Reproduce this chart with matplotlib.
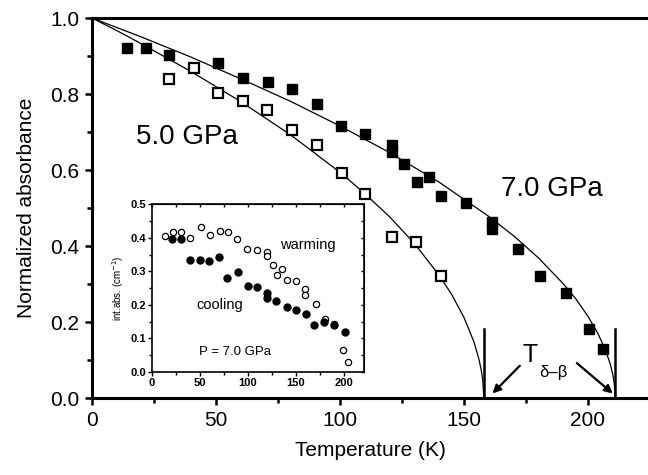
import numpy as np
import matplotlib
matplotlib.use('Agg')
import matplotlib.pyplot as plt
from matplotlib.ticker import MultipleLocator

plt.rcParams['font.family'] = ['Liberation Sans', 'DejaVu Sans']

# main panel: normalized absorbance vs temperature
t_7gpa = [14.0, 21.7, 31.2, 50.9, 61.0, 71.0, 80.5, 90.8, 100.4, 110.1, 120.8, 120.8,
          125.9, 130.9, 135.9, 140.7, 150.8, 161.2, 161.2, 171.9, 180.6, 191.1, 200.5, 205.9]
a_7gpa = [0.922, 0.922, 0.903, 0.882, 0.841, 0.833, 0.812, 0.773, 0.716, 0.695, 0.666, 0.648,
          0.616, 0.568, 0.581, 0.532, 0.512, 0.464, 0.444, 0.393, 0.322, 0.277, 0.181, 0.129]

t_5gpa = [31.2, 41.2, 50.9, 61.0, 70.6, 80.6, 90.8, 100.8, 110.1, 120.8, 130.6, 140.7]
a_5gpa = [0.839, 0.869, 0.804, 0.782, 0.759, 0.705, 0.666, 0.593, 0.536, 0.423, 0.411, 0.321]

# fit curves
fit7_t = [0, 10, 20, 40, 60, 80, 100, 120, 140, 160, 170, 180, 190, 195, 200, 204, 207, 209, 210, 210.6, 211]
fit7_a = [1.0, 0.975, 0.950, 0.897, 0.840, 0.781, 0.716, 0.646, 0.568, 0.478, 0.427, 0.369,
          0.301, 0.262, 0.215, 0.170, 0.127, 0.089, 0.062, 0.038, 0.0]
fit5_t = [0, 10, 20, 40, 60, 80, 100, 110, 120, 130, 140, 145, 150, 154, 156, 157, 157.6, 158]
fit5_a = [1.0, 0.967, 0.932, 0.859, 0.780, 0.693, 0.594, 0.538, 0.477, 0.407, 0.323, 0.273,
          0.212, 0.148, 0.103, 0.072, 0.045, 0.0]

t_transition = [158.2, 211.0]

# inset: integrated absorbance at 7.0 GPa
t_cool = [21.2, 30.1, 40.0, 50.3, 59.5, 70.1, 78.6, 89.2, 99.8, 109.7, 119.6, 119.6,
          129.2, 140.5, 150.1, 160.4, 168.8, 179.5, 189.4, 201.1]
i_cool = [0.397, 0.397, 0.334, 0.334, 0.330, 0.343, 0.280, 0.298, 0.257, 0.252, 0.236, 0.220,
          0.210, 0.194, 0.184, 0.173, 0.139, 0.149, 0.139, 0.118]

t_warm = [13.1, 21.7, 30.5, 39.9, 50.7, 60.1, 70.5, 79.2, 88.6, 99.1, 109.7, 120.4, 120.4,
          125.7, 129.9, 135.2, 140.5, 150.1, 160.0, 160.0, 170.6, 180.5, 190.1, 199.3, 204.6]
i_warm = [0.405, 0.418, 0.418, 0.400, 0.432, 0.410, 0.420, 0.418, 0.398, 0.366, 0.363, 0.358, 0.345,
          0.320, 0.288, 0.306, 0.273, 0.272, 0.246, 0.230, 0.202, 0.157, 0.142, 0.066, 0.029]

fig = plt.figure(figsize=(6.48, 4.75), dpi=100)
ax = fig.add_axes([0.142, 0.162, 0.858, 0.800])

ax.plot(fit7_t, fit7_a, color='black', lw=0.9)
ax.plot(fit5_t, fit5_a, color='black', lw=0.9)
ax.plot(t_7gpa, a_7gpa, 's', color='black', ms=7.5, mec='black')
ax.plot(t_5gpa, a_5gpa, 's', mfc='white', mec='black', ms=7, mew=1.6)

for tc in t_transition:
    ax.plot([tc, tc], [0, 0.182], color='black', lw=1.8)

ax.annotate('', xy=(161.5, 0.012), xytext=(172.5, 0.085),
            arrowprops=dict(arrowstyle='-|>', color='black', lw=1.6, mutation_scale=12,
                            shrinkA=0, shrinkB=0))
ax.annotate('', xy=(210.0, 0.012), xytext=(195.5, 0.092),
            arrowprops=dict(arrowstyle='-|>', color='black', lw=1.6, mutation_scale=12,
                            shrinkA=0, shrinkB=0))
ax.text(176.6, 0.113, 'T', fontsize=18, ha='center', va='center')
ax.text(186.0, 0.066, 'δ–β', fontsize=12, ha='center', va='center')

ax.text(38.1, 0.687, '5.0 GPa', fontsize=20, ha='center', va='center')
ax.text(185.3, 0.549, '7.0 GPa', fontsize=20, ha='center', va='center')

ax.set_xlim(0, 224.2)
ax.set_ylim(0, 1.0)
ax.xaxis.set_major_locator(MultipleLocator(50))
ax.xaxis.set_minor_locator(MultipleLocator(25))
ax.yaxis.set_major_locator(MultipleLocator(0.2))
ax.yaxis.set_minor_locator(MultipleLocator(0.1))
ax.yaxis.set_major_formatter(matplotlib.ticker.FormatStrFormatter('%.1f'))
ax.tick_params(which='major', direction='out', length=5, width=1.8, labelsize=15, pad=4)
ax.tick_params(which='minor', direction='out', length=3.5, width=1.8)
ax.tick_params(top=False, right=False, which='both')
for side in ['left', 'bottom', 'top']:
    ax.spines[side].set_linewidth(2.2)
ax.spines['right'].set_visible(False)
ax.set_xlabel('Temperature (K)', fontsize=15, labelpad=8)
ax.set_ylabel('Normalized absorbance', fontsize=15, labelpad=10)

# inset
axi = fig.add_axes([0.2346, 0.2175, 0.327, 0.352])
axi.plot(t_warm, i_warm, 'o', mfc='white', mec='black', ms=4.5, mew=0.9)
axi.plot(t_cool, i_cool, 'o', color='black', ms=5)
axi.text(162, 0.38, 'warming', fontsize=10.5, ha='center', va='center')
axi.text(71, 0.20, 'cooling', fontsize=10.5, ha='center', va='center')
axi.text(87, 0.06, 'P = 7.0 GPa', fontsize=9.5, ha='center', va='center')
axi.set_xlim(0, 221)
axi.set_ylim(0, 0.5)
axi.xaxis.set_major_locator(MultipleLocator(50))
axi.xaxis.set_minor_locator(MultipleLocator(25))
axi.yaxis.set_major_locator(MultipleLocator(0.1))
axi.yaxis.set_minor_locator(MultipleLocator(0.05))
axi.yaxis.set_major_formatter(matplotlib.ticker.FormatStrFormatter('%.1f'))
axi.tick_params(which='major', direction='out', length=3, width=1, labelsize=8, pad=1.5)
axi.tick_params(which='minor', direction='out', length=2, width=1)
for lab in axi.get_xticklabels() + axi.get_yticklabels():
    lab.set_fontweight('bold')
for side in axi.spines.values():
    side.set_linewidth(1.2)
top = axi.secondary_xaxis('top')
top.xaxis.set_major_locator(MultipleLocator(25))
top.tick_params(direction='in', length=2.5, width=1, labeltop=False)
right = axi.secondary_yaxis('right')
right.yaxis.set_major_locator(MultipleLocator(0.05))
right.tick_params(direction='in', length=2.5, width=1, labelright=False)
axi.set_ylabel('int.abs. (cm$^{-1}$)', fontsize=7, labelpad=3)

fig.savefig('out.png', dpi=100)
